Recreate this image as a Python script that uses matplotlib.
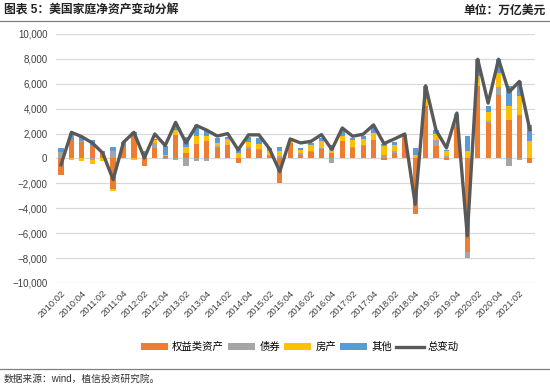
import matplotlib
matplotlib.use("Agg")
import matplotlib.pyplot as plt
import numpy as np

plt.rcParams["font.family"] = ["Liberation Sans", "Noto Sans CJK SC", "DejaVu Sans"]

# quarters 2010Q2 .. 2021Q3
quarters = [f"{y}:{q:02d}" for y in range(2010, 2022) for q in (1, 2, 3, 4)][1:47]

equity = [-1330, 1520, 1330, 990, 450, -2480, 990, 1920, -610, 850,
          190, 1920, 450, 1170, 1390, 850, 1120, -350, 800, 670,
          190, -2000, 1250, 320, 510, 770, 450, 1390, 850, 990,
          1520, -160, 450, 1790, -4480, 4190, 990, -160, 2530, -7550,
          5840, 2850, 5120, 3070, 3520, -350]
bonds = [500, 0, 50, -130, 0, 590, 0, 0, 190, 400,
         -80, -130, -610, -200, -200, 130, 0, 0, 110, 110,
         130, 190, 0, 130, 80, 80, -350, 0, 80, 130,
         0, 320, 190, 0, 0, 0, 480, 190, 270, -450,
         0, 140, 590, -610, -130, 0]
housing = [0, -130, -210, -300, -210, -150, 0, -130, 130, 220,
           130, 400, 480, 620, 400, 270, 450, 450, 400, 420,
           270, 400, 130, 220, 530, 540, 270, 450, 540, 450,
           530, 670, 480, 130, 320, 580, 530, 400, 320, 640,
           750, 720, 1140, 1170, 1520, 1440]
other = [350, 530, 410, 530, 190, 340, 320, 210, 270, 100,
         670, 400, 800, 930, 530, 400, 160, 400, 420, 450,
         260, 350, 140, 180, 130, 260, 400, 610, 180, 220,
         480, 210, 210, 0, 530, 1020, 320, 100, 480, 1150,
         1380, 530, 1120, 1600, 1150, 1230]
total = [-500, 2100, 1750, 1250, 450, -1700, 1310, 2100, 50, 1970,
         1040, 2900, 1250, 2650, 2270, 1800, 2000, 700, 1900, 1900,
         800, -1050, 1570, 1250, 1380, 1920, 720, 2450, 1790, 1950,
         2700, 1200, 1570, 1970, -3680, 5840, 2270, 850, 3650, -6210,
         7970, 4450, 7970, 5330, 6190, 2320]

series = [("权益类资产", equity, "#ED7D31"),
          ("债券", bonds, "#A5A5A5"),
          ("房产", housing, "#FFC000"),
          ("其他", other, "#5B9BD5")]

fig = plt.figure(figsize=(5.5, 3.88), dpi=100)
ax = fig.add_axes([55.8 / 550, 1 - 283 / 388, (535 - 55.8) / 550, (283 - 34) / 388])

x = np.arange(len(quarters))
pos_base = np.zeros(len(x))
neg_base = np.zeros(len(x))
handles = []
for name, vals, color in series:
    v = np.array(vals, dtype=float)
    base = np.where(v >= 0, pos_base, neg_base)
    h = ax.bar(x, v, 0.5, bottom=base, color=color, label=name, zorder=2)
    handles.append(h)
    pos_base += np.where(v >= 0, v, 0)
    neg_base += np.where(v < 0, v, 0)

line, = ax.plot(x, total, color="#595959", lw=2.4, label="总变动", zorder=3)
handles.append(line)

ax.set_xlim(-0.5, len(x) - 0.5)
ax.set_ylim(-10000, 10000)
ax.set_yticks(np.arange(-10000, 10001, 2000))
ax.set_yticklabels([f"{v:,}".replace("-", "\u2212") for v in range(-10000, 10001, 2000)],
                   fontsize=7, color="#404040")
ax.set_xticks(x[::2])
ax.set_xticklabels(quarters[::2], rotation=45, ha="right", va="top",
                   rotation_mode="anchor", fontsize=6.8, color="#404040")
ax.tick_params(length=0, pad=6)
ax.tick_params(axis="x", pad=4)
ax.grid(axis="y", color="#D9D9D9", lw=0.9, zorder=0)
for s in ax.spines.values():
    s.set_visible(False)

ax.legend(handles=handles, labels=[h.get_label() for h in handles],
          loc="center", bbox_to_anchor=(0.545, 1 - 347 / 388), bbox_transform=fig.transFigure,
          ncol=5, frameon=False, fontsize=7.5, handlelength=2.6, handleheight=0.6,
          columnspacing=0.4, handletextpad=0.4)

fig.text(4 / 550, 1 - 11 / 388, "图表 5：美国家庭净资产变动分解", fontsize=8.5,
         fontweight="bold", va="center", ha="left", color="#222222")
fig.text(546 / 550, 1 - 11 / 388, "单位：万亿美元", fontsize=8.5,
         fontweight="bold", va="center", ha="right", color="#222222")
fig.add_artist(plt.Line2D([0, 1], [1 - 21 / 388] * 2, color="#808080", lw=0.9))
fig.add_artist(plt.Line2D([0, 1], [1 - 369 / 388] * 2, color="#808080", lw=0.9))
fig.text(4 / 550, 1 - 379 / 388, "数据来源：wind，植信投资研究院。", fontsize=7,
         va="center", ha="left", color="#333333")

fig.savefig("out.png", dpi=100)
